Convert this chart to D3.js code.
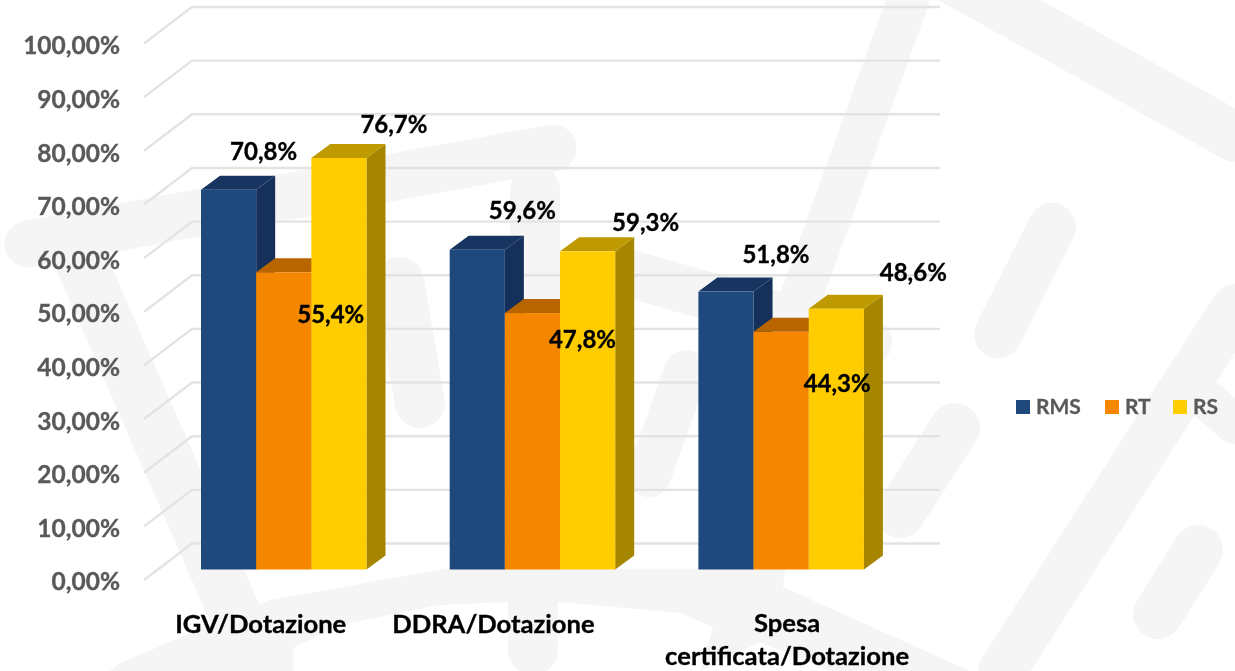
<!DOCTYPE html>
<html><head><meta charset="utf-8">
<script src="https://cdn.jsdelivr.net/npm/d3@7"></script>
<style>html,body{margin:0;padding:0;background:#fff}svg{display:block;filter:blur(0.35px)}text{font-family:Lato,"Open Sans",sans-serif;font-weight:700}</style>
</head><body><svg id="c" width="1235" height="671"></svg>
<script>
const categories = [["IGV/Dotazione"],["DDRA/Dotazione"],["Spesa","certificata/Dotazione"]];
const seriesNames = ["RMS","RT","RS"];
const rms = [70.8,59.6,51.8];
const rt = [55.4,47.8,44.3];
const rs = [76.7,59.3,48.6];
const yTicks = [0,10,20,30,40,50,60,70,80,90,100];
const frontColors = ["#1f487c","#f58700","#ffcc00"];
const sideColors = ["#15305a","#a85c00","#a68500"];
const topColors = ["#173560","#b86500","#bf9900"];
// manual label placement, as in the original chart
const labelNudge = [[[35,-38],[47,42],[55,-33]],[[45,-39],[50,27],[58,-29]],[[50,-37],[56,52],[77,-36]]];
const categoryNudge = [-23,-39,6];
// faint watermark behind the chart
const watermark = [
 [[28,244],[553,148],47],[[79,257],[260,671],52],[[399,282],[420,403],50],
 [[908,0],[775,370],42],[[686,372],[649,475],44],[[950,-22],[1235,137],50],
 [[1052,227],[998,334],48],[[955,428],[900,513],50],[[1235,308],[1002,671],48],
 [[1198,550],[1158,614],50],[[1200,394],[1235,424],40],[[631,274],[868,342],48],
 [[535,190],[535,300],50],[[533,600],[533,650],50]];
const watermarkShape = [[110,671],[120,663],[270,600],[450,568],[785,569],[783,587],[970,671],[830,671],[760,642],[700,671],[713,627],[680,613],[560,602],[507,602],[440,605],[340,625],[293,648],[293,671]];

const series = [rms,rt,rs];
const svg = d3.select("#c");
const depthX = 19, depthY = 14;
const y = d3.scaleLinear().domain([0,100]).range([569.5,33]);
const x0 = d3.scaleBand().domain(d3.range(categories.length)).range([159.4,905.5]).paddingInner(.3345).paddingOuter(.16725);
const x1 = d3.scaleBand().domain(d3.range(seriesNames.length)).range([0,x0.bandwidth()]);

const wm = svg.append("g").attr("fill","none").attr("stroke","#f5f5f5").attr("stroke-linecap","round");
watermark.forEach(w=>wm.append("path").attr("d",d3.line()([w[0],w[1]])).attr("stroke-width",w[2]));
svg.append("path").attr("fill","#f5f5f5").attr("d",d3.line()(watermarkShape)+"Z");

const grid = svg.append("g").attr("fill","none").attr("stroke","#e3e3e3").attr("stroke-width",2.4);
yTicks.forEach(t=>{
  grid.append("path").attr("d",d3.line()([[144,y(t)+10.5],[192,y(t)-26],[940,y(t)-26]]));
});

const axis = d3.axisLeft(d3.scaleLinear().domain([0,100]).range([582,46])).tickValues(yTicks).tickSize(0).tickPadding(0)
  .tickFormat(d=>d3.format(".2f")(d).replace(".",",")+"%");
const ax = svg.append("g").attr("transform","translate(120,0)").call(axis);
ax.select(".domain").remove();
ax.selectAll("text").attr("fill","#595959").attr("stroke","#595959").attr("stroke-width",0.35).style("font-size","24.5px").style("font-family",'Lato,"Open Sans",sans-serif').style("font-weight",700);

const bars = svg.append("g");
categories.forEach((c,i)=>{
  series.forEach((s,j)=>{
    const l = x0(i)+x1(j), r = l+x1.bandwidth(), t = y(s[i]), b = y(0);
    const g = bars.append("g");
    g.append("path").attr("fill",sideColors[j]).attr("d",d3.line()([[r,t],[r+depthX,t-depthY],[r+depthX,b-depthY],[r,b]]));
    g.append("path").attr("fill",topColors[j]).attr("d",d3.line()([[l,t],[l+depthX,t-depthY],[r+depthX,t-depthY],[r,t]]));
    g.append("rect").attr("x",l).attr("y",t).attr("width",r-l).attr("height",b-t).attr("fill",frontColors[j]);
  });
});
const labels = svg.append("g").attr("text-anchor","middle").attr("fill","#000").attr("stroke","#000").attr("stroke-width",0.35).attr("font-size",24);
categories.forEach((c,i)=>{
  series.forEach((s,j)=>{
    labels.append("text").attr("x",x0(i)+x1(j)+x1.bandwidth()/2+labelNudge[i][j][0])
      .attr("y",y(s[i])+labelNudge[i][j][1]).attr("dy","0.35em")
      .text(s[i].toFixed(1).replace(".",",")+"%");
  });
});
const cats = svg.append("g").attr("text-anchor","middle").attr("fill","#000").attr("stroke","#000").attr("stroke-width",0.35).attr("font-size",25.6);
categories.forEach((c,i)=>{
  const t = cats.append("text").attr("y",c.length>1?632:633);
  c.forEach((line,k)=>t.append("tspan").attr("x",x0(i)+x0.bandwidth()/2+categoryNudge[i]).attr("dy",k?33:0).text(line));
});
const legendSwatchX = [1016,1105,1173];
const leg = svg.append("g");
seriesNames.forEach((n,j)=>{
  leg.append("rect").attr("x",legendSwatchX[j]).attr("y",400).attr("width",14).attr("height",14).attr("fill",frontColors[j]);
  leg.append("text").attr("x",legendSwatchX[j]+20).attr("y",407).attr("dy","0.35em").attr("fill","#595959").attr("stroke","#595959").attr("stroke-width",0.3).attr("font-size",21).text(n);
});
</script></body></html>
